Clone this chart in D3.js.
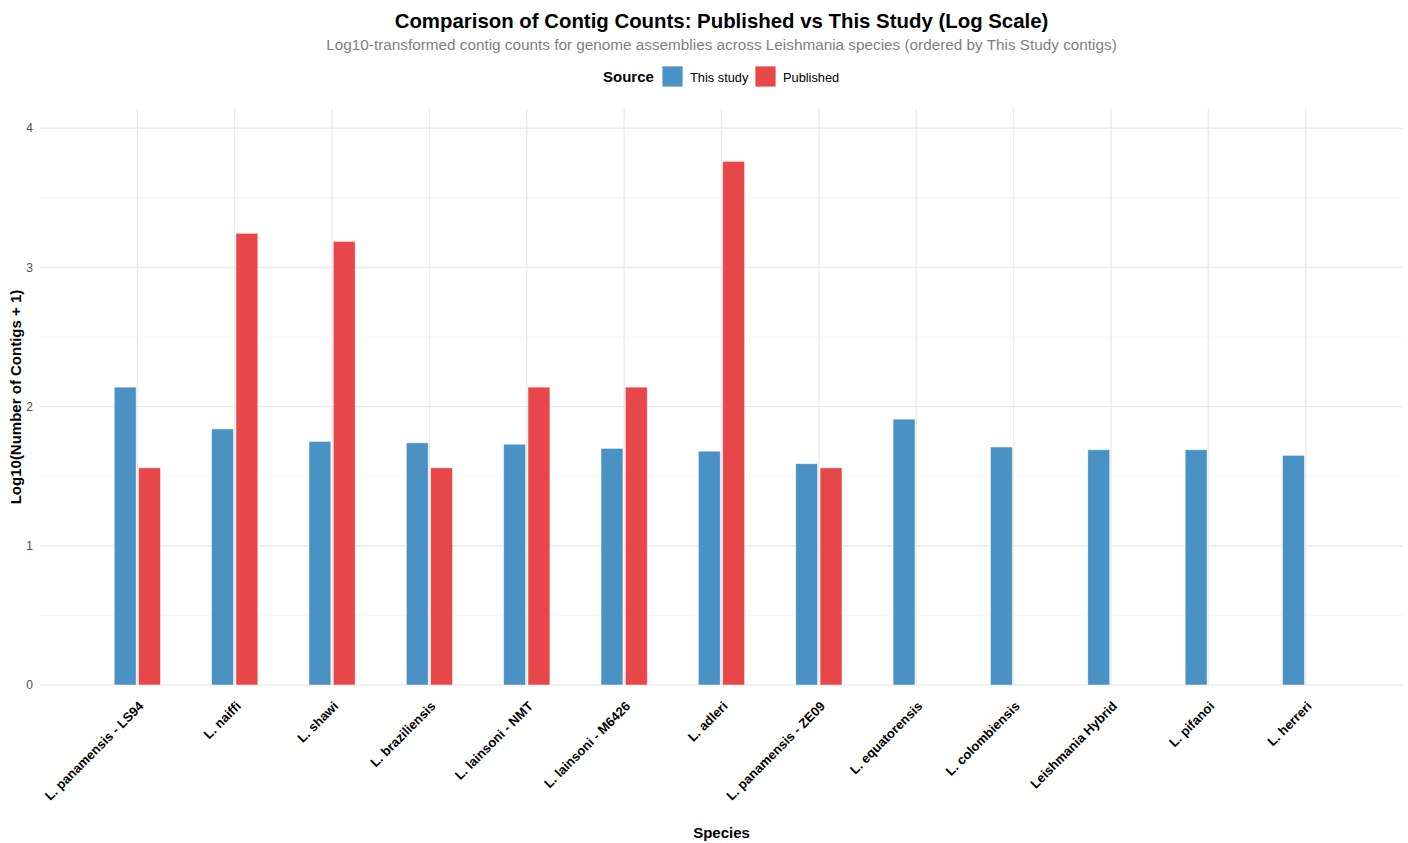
<!DOCTYPE html>
<html>
<head>
<meta charset="utf-8">
<script src="https://cdn.jsdelivr.net/npm/d3@7"></script>
<style>
  body { margin: 0; background: #fff; }
  text { font-family: "Liberation Sans", Arial, Helvetica, sans-serif; }
</style>
</head>
<body>
<svg id="chart" width="1408" height="843"></svg>
<script>
// Species ordered by contig count in this study
const species = [
  "L. panamensis - LS94", "L. naiffi", "L. shawi", "L. braziliensis",
  "L. lainsoni - NMT", "L. lainsoni - M6426", "L. adleri", "L. panamensis - ZE09",
  "L. equatorensis", "L. colombiensis", "Leishmania Hybrid", "L. pifanoi", "L. herreri"
];
// log10(contigs + 1), this study
const thisStudy = [2.14, 1.84, 1.75, 1.74, 1.73, 1.70, 1.68, 1.59, 1.91, 1.71, 1.69, 1.69, 1.65];
// log10(contigs + 1), published assemblies (null where none exists)
const published = [1.56, 3.245, 3.187, 1.56, 2.14, 2.14, 3.762, 1.56, null, null, null, null, null];
const sources = ["This study", "Published"];
const sourceColors = ["#4b92c4", "#e8474a"];
const yTicks = [0, 1, 2, 3, 4];
const yMinor = [0.5, 1.5, 2.5, 3.5];

const svg = d3.select("#chart");
const panel = { left: 40, right: 1403, top: 109, bottom: 685 };

const yMax = d3.max(published.concat(thisStudy).filter(v => v != null)) * 1.1;
const x = d3.scaleLinear().domain([0, species.length + 1]).range([panel.left, panel.right]);
const y = d3.scaleLinear().domain([0, yMax]).range([panel.bottom, panel.top]);
const color = d3.scaleOrdinal().domain(sources).range(sourceColors);

const unit = x(1) - x(0);
const dodge = 0.5, barW = 0.225;

// grid
const grid = svg.append("g");
grid.selectAll("line.minor").data(yMinor).join("line")
  .attr("x1", panel.left).attr("x2", panel.right)
  .attr("y1", d => y(d)).attr("y2", d => y(d))
  .attr("stroke", "#f4f4f4").attr("stroke-width", 0.9);
grid.selectAll("line.major").data(yTicks).join("line")
  .attr("x1", panel.left).attr("x2", panel.right)
  .attr("y1", d => y(d)).attr("y2", d => y(d))
  .attr("stroke", "#ebebeb").attr("stroke-width", 1.4);
grid.selectAll("line.vx").data(species).join("line")
  .attr("x1", (d, i) => x(i + 1)).attr("x2", (d, i) => x(i + 1))
  .attr("y1", panel.top).attr("y2", panel.bottom)
  .attr("stroke", "#ebebeb").attr("stroke-width", 1.4);

// bars
const rows = [];
species.forEach((s, i) => {
  rows.push({ i, src: 0, v: thisStudy[i] });
  if (published[i] != null) rows.push({ i, src: 1, v: published[i] });
});
svg.append("g").selectAll("rect").data(rows).join("rect")
  .attr("x", d => x(d.i + 1 + (d.src === 0 ? -dodge / 4 : dodge / 4) - barW / 2))
  .attr("width", barW * unit)
  .attr("y", d => y(d.v))
  .attr("height", d => y(0) - y(d.v))
  .attr("fill", d => color(sources[d.src]))
  .attr("stroke", "#ffffff").attr("stroke-opacity", 0.6).attr("stroke-width", 0.8);

// y axis labels
svg.append("g").selectAll("text").data(yTicks).join("text")
  .attr("x", 33).attr("y", d => y(d)).attr("dy", "0.35em")
  .attr("text-anchor", "end").attr("font-size", 12).attr("fill", "#4d4d4d")
  .text(d => d);

// x axis labels
svg.append("g").selectAll("text").data(species).join("text")
  .attr("transform", (d, i) => `translate(${x(i + 1) + 7},${panel.bottom + 22}) rotate(-45)`)
  .attr("text-anchor", "end").attr("font-size", 13).attr("font-weight", "bold").attr("fill", "#000")
  .text(d => d);

// titles
svg.append("text").attr("x", 721.5).attr("y", 28).attr("text-anchor", "middle")
  .attr("font-size", 20.4).attr("font-weight", "bold").attr("fill", "#000")
  .text("Comparison of Contig Counts: Published vs This Study (Log Scale)");
svg.append("text").attr("x", 721.5).attr("y", 49.5).attr("text-anchor", "middle")
  .attr("font-size", 15.3).attr("fill", "#7f7f7f")
  .text("Log10-transformed contig counts for genome assemblies across Leishmania species (ordered by This Study contigs)");

svg.append("text").attr("x", 721.5).attr("y", 837.5).attr("text-anchor", "middle")
  .attr("font-size", 15).attr("font-weight", "bold").attr("fill", "#000").text("Species");
svg.append("text").attr("transform", `translate(21,${(panel.top + panel.bottom) / 2}) rotate(-90)`)
  .attr("text-anchor", "middle").attr("font-size", 15).attr("font-weight", "bold").attr("fill", "#000")
  .text("Log10(Number of Contigs + 1)");

// legend
const lg = svg.append("g");
lg.append("text").attr("x", 603).attr("y", 82).attr("font-size", 15).attr("font-weight", "bold")
  .attr("fill", "#000").text("Source");
const keyX = [662, 755];
sources.forEach((s, k) => {
  lg.append("rect").attr("x", keyX[k]).attr("y", 66).attr("width", 21).attr("height", 21)
    .attr("fill", color(s)).attr("stroke", "#fff").attr("stroke-width", 0.8);
  lg.append("text").attr("x", keyX[k] + 28).attr("y", 81.5).attr("font-size", 12.8).attr("fill", "#000").text(s);
});
</script>
</body>
</html>
